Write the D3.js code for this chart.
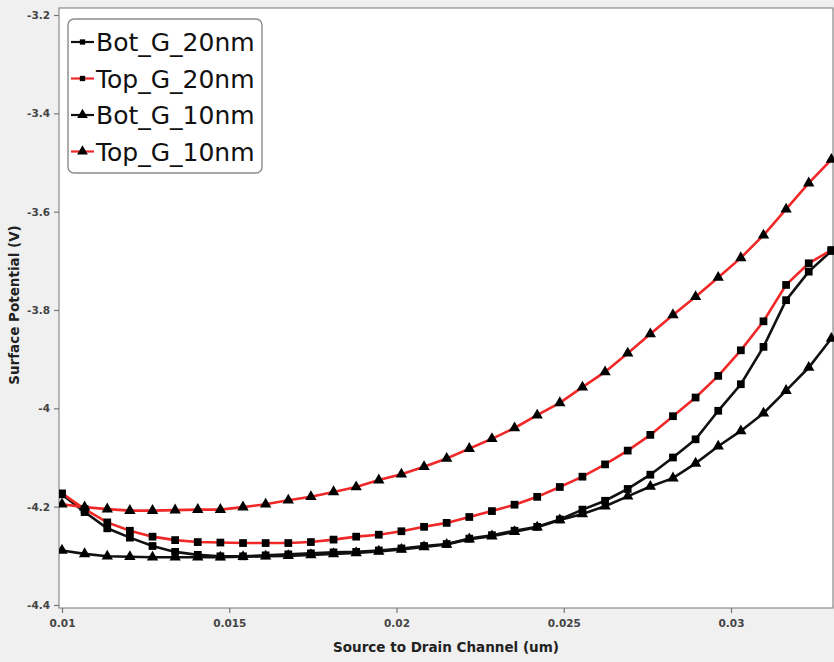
<!DOCTYPE html>
<html>
<head>
<meta charset="utf-8">
<script src="https://cdn.jsdelivr.net/npm/d3@7"></script>
<style>
    body { margin: 0; background: #f0f0f0; }
    svg { display: block; }
</style>
</head>
<body>
<div id="chart"></div>
<script>
// Channel positions (um)
var channelX = [0.01, 0.010676, 0.011353, 0.012029, 0.012706, 0.013382, 0.014059, 0.014735,
    0.015412, 0.016088, 0.016765, 0.017441, 0.018118, 0.018794, 0.019471, 0.020147,
    0.020824, 0.0215, 0.022176, 0.022853, 0.023529, 0.024206, 0.024882, 0.025559,
    0.026235, 0.026912, 0.027588, 0.028265, 0.028941, 0.029618, 0.030294, 0.030971,
    0.031647, 0.032324, 0.033];

// Surface potential (V) for each series
var botG20 = [-4.175, -4.211, -4.244, -4.263, -4.280, -4.292, -4.298, -4.301, -4.301, -4.299,
    -4.297, -4.295, -4.293, -4.292, -4.289, -4.285, -4.280, -4.276, -4.265, -4.258,
    -4.249, -4.241, -4.226, -4.206, -4.188, -4.164, -4.135, -4.100, -4.063, -4.005,
    -3.951, -3.875, -3.780, -3.722, -3.680];
var topG20 = [-4.173, -4.205, -4.232, -4.249, -4.261, -4.268, -4.272, -4.273, -4.274, -4.274,
    -4.274, -4.272, -4.267, -4.261, -4.257, -4.250, -4.241, -4.233, -4.221, -4.209,
    -4.196, -4.180, -4.160, -4.139, -4.114, -4.086, -4.054, -4.016, -3.978, -3.934,
    -3.882, -3.823, -3.749, -3.705, -3.678];
var botG10 = [-4.289, -4.296, -4.301, -4.302, -4.303, -4.303, -4.303, -4.303, -4.302, -4.301,
    -4.300, -4.298, -4.296, -4.294, -4.291, -4.287, -4.282, -4.277, -4.266, -4.260,
    -4.251, -4.242, -4.227, -4.215, -4.199, -4.179, -4.159, -4.142, -4.112, -4.077,
    -4.046, -4.010, -3.964, -3.917, -3.858];
var topG10 = [-4.195, -4.201, -4.205, -4.208, -4.208, -4.207, -4.206, -4.206, -4.201, -4.195,
    -4.187, -4.180, -4.170, -4.160, -4.146, -4.134, -4.119, -4.102, -4.082, -4.062,
    -4.040, -4.014, -3.989, -3.957, -3.926, -3.888, -3.849, -3.810, -3.773, -3.734,
    -3.694, -3.648, -3.595, -3.542, -3.494];

var seriesNames = ["Bot_G_20nm", "Top_G_20nm", "Bot_G_10nm", "Top_G_10nm"];
var xTicks = [0.01, 0.015, 0.02, 0.025, 0.03];
var yTicks = [-3.2, -3.4, -3.6, -3.8, -4, -4.2, -4.4];

function drawChart() {
    var svgWidth = 834;
    var svgHeight = 662;

    // plot frame
    var left = 59, right = 833, top = 8, bottom = 608;

    var svg = d3.select("#chart")
        .append("svg")
        .attr("width", svgWidth)
        .attr("height", svgHeight);

    svg.append("rect")
        .attr("width", svgWidth)
        .attr("height", svgHeight)
        .attr("fill", "#f0f0f0");

    // Scales
    var xScale = d3.scaleLinear()
        .domain([0.01, 0.03])
        .range([62, 731]);

    var yScale = d3.scaleLinear()
        .domain([-4.4, -3.2])
        .range([605, 15]);

    // white plot area
    svg.append("rect")
        .attr("x", left)
        .attr("y", top)
        .attr("width", right - left)
        .attr("height", bottom - top)
        .attr("fill", "white")
        .attr("stroke", "#8a8a8a")
        .attr("stroke-width", 1.2);

    svg.append("clipPath")
        .attr("id", "plotClip")
        .append("rect")
        .attr("x", left)
        .attr("y", top)
        .attr("width", right - left + 4)
        .attr("height", bottom - top);

    // Axes
    var xAxis = d3.axisBottom(xScale)
        .tickValues(xTicks)
        .tickSize(5)
        .tickSizeOuter(0)
        .tickFormat(d => String(+d.toFixed(3)));

    var yAxis = d3.axisLeft(yScale)
        .tickValues(yTicks)
        .tickSize(5)
        .tickSizeOuter(0)
        .tickFormat(d => String(+d.toFixed(1)));

    var gx = svg.append("g")
        .attr("transform", `translate(0, ${bottom})`)
        .call(xAxis);
    gx.select(".domain").remove();

    var gy = svg.append("g")
        .attr("transform", `translate(${left}, 0)`)
        .call(yAxis);
    gy.select(".domain").remove();

    svg.selectAll(".tick line")
        .attr("stroke", "#777")
        .attr("stroke-width", 1.2);
    svg.selectAll(".tick text")
        .attr("fill", "#444")
        .style("font-family", "DejaVu Sans")
        .style("font-weight", "bold")
        .style("font-size", "10.5px");
    gx.selectAll(".tick text").attr("y", 12).attr("dy", "0.71em");
    gy.selectAll(".tick text").attr("dx", "-1px");

    // Axis titles
    svg.append("text")
        .attr("x", 446)
        .attr("y", 652)
        .attr("text-anchor", "middle")
        .attr("fill", "#222")
        .style("font-family", "DejaVu Sans")
        .style("font-weight", "bold")
        .style("font-size", "13.5px")
        .text("Source to Drain Channel (um)");

    svg.append("text")
        .attr("transform", "translate(19, 305) rotate(-90)")
        .attr("text-anchor", "middle")
        .attr("fill", "#222")
        .style("font-family", "DejaVu Sans")
        .style("font-weight", "bold")
        .style("font-size", "13.5px")
        .text("Surface Potential (V)");

    // Series
    var series = [
        { name: seriesNames[0], values: botG20, color: "#111", symbol: d3.symbolSquare },
        { name: seriesNames[1], values: topG20, color: "#f02828", symbol: d3.symbolSquare },
        { name: seriesNames[2], values: botG10, color: "#111", symbol: d3.symbolTriangle },
        { name: seriesNames[3], values: topG10, color: "#f02828", symbol: d3.symbolTriangle }
    ];

    var line = d3.line()
        .x((d, i) => xScale(channelX[i]))
        .y(d => yScale(d));

    var plot = svg.append("g").attr("clip-path", "url(#plotClip)");

    series.forEach(function(s) {
        plot.append("path")
            .datum(s.values)
            .attr("fill", "none")
            .attr("stroke", s.color)
            .attr("stroke-width", 2.6)
            .attr("d", line);
    });

    series.forEach(function(s) {
        var size = s.symbol === d3.symbolSquare ? 60 : 56;
        plot.selectAll(null)
            .data(s.values)
            .enter()
            .append("path")
            .attr("transform", (d, i) => `translate(${xScale(channelX[i])}, ${yScale(d)})`)
            .attr("d", d3.symbol().type(s.symbol).size(size))
            .attr("fill", "#000");
    });

    // Legend
    var legend = svg.append("g");
    legend.append("rect")
        .attr("x", 68)
        .attr("y", 19)
        .attr("width", 194)
        .attr("height", 154)
        .attr("rx", 6)
        .attr("fill", "white")
        .attr("stroke", "#8a8a8a")
        .attr("stroke-width", 1.4);

    series.forEach(function(s, i) {
        var ly = 42 + i * 36.5;
        legend.append("line")
            .attr("x1", 71)
            .attr("x2", 94)
            .attr("y1", ly)
            .attr("y2", ly)
            .attr("stroke", s.color)
            .attr("stroke-width", 2.2);
        legend.append("path")
            .attr("transform", `translate(82.5, ${ly})`)
            .attr("d", d3.symbol().type(s.symbol).size(s.symbol === d3.symbolSquare ? 28 : 50))
            .attr("fill", "#000");
        legend.append("text")
            .attr("x", 96)
            .attr("y", ly + 9)
            .attr("fill", "#111")
            .style("font-family", "DejaVu Sans")
            .style("font-size", "25px")
            .text(s.name);
    });
}

drawChart();
</script>
</body>
</html>
